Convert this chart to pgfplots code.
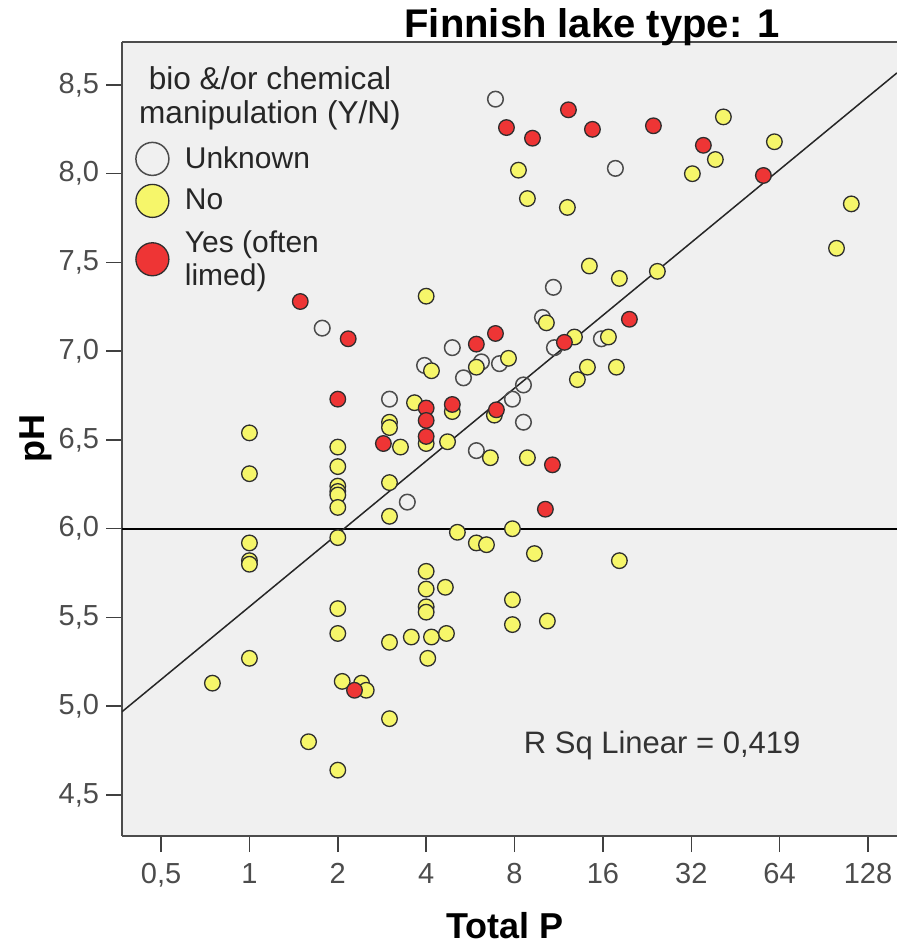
\documentclass[border=0pt]{standalone}
\usepackage{fontspec}
\setmainfont{Liberation Sans}
\usepackage{pgfplots}
\pgfplotsset{compat=1.18}
\definecolor{bgc}{HTML}{F0F0F0}
\definecolor{yel}{HTML}{F6F66A}
\definecolor{redc}{HTML}{EE3535}
\definecolor{edge}{HTML}{2E2E2E}
\begin{document}
\begin{tikzpicture}
\begin{axis}[name=ax, scale only axis, width=387.5pt, height=397pt,
  xmode=log, log basis x=2, xmin=0.368, xmax=160.7, ymin=4.269, ymax=8.742,
  axis background/.style={fill=bgc},
  axis x line*=box, axis y line*=left,
  axis line style={black!70, line width=1pt},
  xtick={0.5,1,2,4,8,16,32,64,128},
  xticklabels={{0,5},1,2,4,8,16,32,64,128},
  ytick={4.5,5,5.5,6,6.5,7,7.5,8,8.5},
  yticklabels={{4,5},{5,0},{5,5},{6,0},{6,5},{7,0},{7,5},{8,0},{8,5}},
  minor tick num=0, log ticks with fixed point=false,
  tick align=outside, xtick pos=bottom, ytick pos=left, major tick length=8pt,
  tick style={black!75, line width=0.75pt},
  ticklabel style={font=\fontsize{14.5}{16}\selectfont, text=black!70},
  xticklabel style={yshift=-2pt},
  legend style={at={(rel axis cs:0,1)}, anchor=north west, xshift=6.75pt, yshift=-50pt,
    draw=none, fill=none, inner sep=0pt, row sep=4.5pt, column sep=6pt,
    font=\fontsize{15}{16.5}\selectfont, text=black!85,
    cells={anchor=west, align=left}},
  legend image code/.code={\draw[#1,mark size=8.25pt] plot coordinates {(0pt,0pt)};},
]
% Unknown
\addplot[only marks, mark=o, mark size=3.9pt, mark options={draw=black!70, line width=0.75pt}] coordinates {
(6.89,8.42) (17.65,8.03) (10.85,7.36) (1.77,7.13) (9.96,7.19) (10.94,7.02)
(15.81,7.07) (4.91,7.02) (3.95,6.92) (6.17,6.94) (7.11,6.93) (5.36,6.85)
(3.0,6.73) (8.58,6.81) (7.87,6.73) (8.58,6.60) (5.93,6.44) (3.45,6.15)
};
\addlegendentry{Unknown}
% No
\addplot[only marks, mark=*, mark size=3.9pt, mark options={draw=edge, fill=yel, line width=0.65pt}] coordinates {
(8.25,8.02) (8.85,7.86) (12.11,7.81) (14.39,7.48) (18.21,7.41) (24.53,7.45)
(4,7.31) (41.17,8.32) (61.42,8.18) (38.67,8.08) (32.28,8.00) (112.3,7.83)
(100,7.58) (16.71,7.08) (10.27,7.16) (12.80,7.08) (4.17,6.89) (5.93,6.91)
(7.63,6.96) (14.17,6.91) (13.10,6.84) (17.79,6.91) (3.65,6.71) (3,6.60)
(3,6.57) (4.91,6.66) (6.83,6.64) (4,6.48) (2,6.46) (3.27,6.46)
(4.73,6.49) (2,6.35) (2,6.24) (2,6.21) (2,6.19) (2,6.12)
(3,6.26) (3,6.07) (6.62,6.40) (8.85,6.40) (2,5.95) (5.11,5.98)
(5.93,5.92) (6.42,5.91) (7.87,6.00) (9.35,5.86) (1,6.54) (1,6.31)
(1,5.92) (1,5.82) (1,5.80) (1,5.27) (2,5.55) (2,5.41)
(4,5.76) (4,5.66) (4.65,5.67) (4,5.56) (4,5.53) (3,5.36)
(3.56,5.39) (4.17,5.39) (4.69,5.41) (4.05,5.27) (0.748,5.13) (2.07,5.14)
(2.41,5.13) (2.50,5.09) (3,4.93) (1.59,4.80) (2,4.64) (18.21,5.82)
(7.87,5.60) (7.87,5.46) (10.35,5.48)
};
\addlegendentry{No}
% Yes
\addplot[only marks, mark=*, mark size=3.9pt, mark options={draw=edge, fill=redc, line width=0.65pt}] coordinates {
(12.21,8.36) (7.51,8.26) (9.21,8.20) (14.74,8.25) (23.78,8.27) (35.19,8.16)
(56.35,7.99) (19.70,7.18) (1.49,7.28) (2.17,7.07) (5.93,7.04) (6.89,7.10)
(11.83,7.05) (2,6.73) (4,6.68) (4,6.61) (4,6.52) (4.91,6.70)
(6.94,6.67) (2.86,6.48) (10.77,6.36) (10.19,6.11) (2.28,5.09)
};
\addlegendentry{Yes (often\\limed)}
% reference line and linear fit
\addplot[black, line width=0.9pt, forget plot] coordinates {(0.368,6) (160.7,6)};
\addplot[black!85, line width=0.75pt, forget plot] coordinates {(0.368,4.969) (160.7,8.568)};
\node[anchor=west, font=\fontsize{15.5}{17}\selectfont, text=black!80, inner sep=0pt] at (axis cs:8.58,4.78) {R Sq Linear = 0,419};
\end{axis}
\node[anchor=north, align=center, inner sep=0pt, font=\fontsize{15.8}{17}\selectfont, text=black!85]
  at ([xshift=74pt,yshift=-12pt]ax.north west) {bio \&/or chemical\\manipulation (Y/N)};
\node[anchor=base, inner sep=0pt, font=\bfseries\fontsize{20}{22}\selectfont]
  at ([xshift=235pt,yshift=2pt]ax.north west) {Finnish lake type: 1};
\node[anchor=base, inner sep=0pt, font=\bfseries\fontsize{18}{20}\selectfont]
  at ([xshift=191.5pt,yshift=-51pt]ax.south west) {Total P};
\node[rotate=90, anchor=center, inner sep=0pt, font=\bfseries\fontsize{18}{20}\selectfont]
  at ([xshift=-43pt]ax.west) {pH};
\pgfresetboundingbox
\path ([shift={(-61pt,-56pt)}]ax.south west) rectangle ([shift={(0pt,21pt)}]ax.north east);
\end{tikzpicture}
\end{document}
